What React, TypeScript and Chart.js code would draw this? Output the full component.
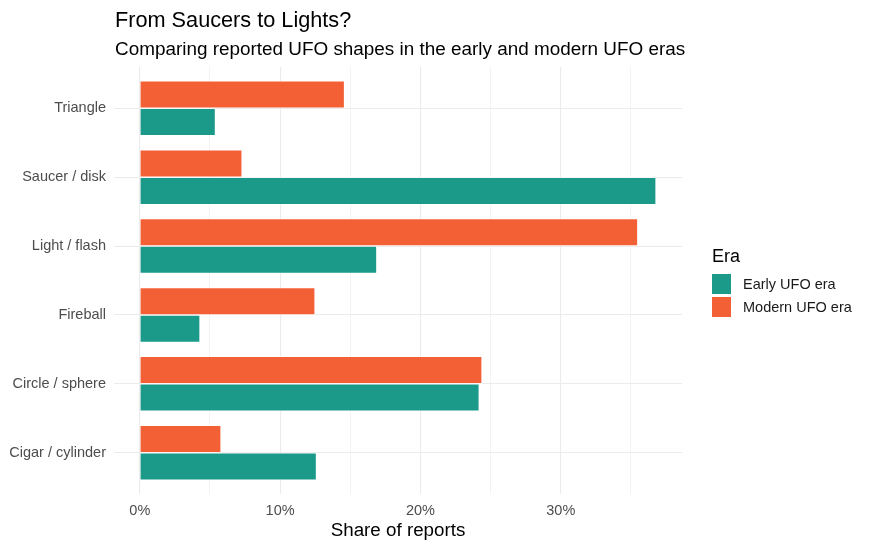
import { useEffect, useRef } from 'react';
import { Chart, registerables } from 'chart.js';

Chart.register(...registerables);

// top-to-bottom order as drawn
const shapes = ['Triangle', 'Saucer / disk', 'Light / flash', 'Fireball', 'Circle / sphere', 'Cigar / cylinder'];
const earlyEra = [5.4, 36.8, 16.9, 4.3, 24.2, 12.6];
const modernEra = [14.6, 7.3, 35.5, 12.5, 24.4, 5.8];
const xTicks = [0, 5, 10, 15, 20, 25, 30, 35];
const eras = ['Early UFO era', 'Modern UFO era'];

const TEAL = '#1B9A8A';
const ORANGE = '#F46036';
const FONT = '"Liberation Sans", Arial, sans-serif';

// ggplot-like title, subtitle and legend, placed against the panel
const headerAndLegend = {
	id: 'headerAndLegend',
	afterDraw(chart: Chart) {
		const { ctx, chartArea } = chart;
		ctx.save();
		ctx.textBaseline = 'alphabetic';
		ctx.textAlign = 'left';
		ctx.fillStyle = '#000';
		ctx.font = `21.7px ${FONT}`;
		ctx.fillText('From Saucers to Lights?', chartArea.left + 1, 27);
		ctx.font = `18.9px ${FONT}`;
		ctx.fillText('Comparing reported UFO shapes in the early and modern UFO eras', chartArea.left + 1, 55);

		const lx = chartArea.right + 30;
		ctx.font = `18px ${FONT}`;
		ctx.fillText('Era', lx, 262);
		const colors = [TEAL, ORANGE];
		ctx.font = `14.5px ${FONT}`;
		ctx.textBaseline = 'middle';
		eras.forEach((label, i) => {
			const y = 274 + i * 23;
			ctx.fillStyle = colors[i];
			ctx.fillRect(lx, y, 19, 20);
			ctx.fillStyle = '#1a1a1a';
			ctx.fillText(label, lx + 31, y + 10.5);
		});
		ctx.restore();
	},
};

export default function App() {
	const chartRef = useRef<HTMLCanvasElement>(null);

	useEffect(() => {
		if (!chartRef.current) return;
		const chart = new Chart(chartRef.current, {
			type: 'bar',
			data: {
				datasets: [
					{
						label: eras[1],
						data: modernEra.map((v, i) => ({ x: v, y: i })),
						backgroundColor: ORANGE,
						borderColor: '#ffffff',
						borderWidth: 0.8,
						categoryPercentage: 0.8,
						barPercentage: 1,
					},
					{
						label: eras[0],
						data: earlyEra.map((v, i) => ({ x: v, y: i })),
						backgroundColor: TEAL,
						borderColor: '#ffffff',
						borderWidth: 0.8,
						categoryPercentage: 0.8,
						barPercentage: 1,
					},
				],
			},
			options: {
				indexAxis: 'y',
				animation: false,
				responsive: false,
				layout: { padding: { top: 67, right: 187, bottom: 0, left: 0 } },
				plugins: {
					legend: { display: false },
					tooltip: { enabled: false },
				},
				scales: {
					x: {
						type: 'linear',
						min: -1.84,
						max: 38.64,
						afterBuildTicks: (scale: any) => {
							scale.ticks = xTicks.map((v) => ({ value: v }));
						},
						afterFit: (scale: any) => {
							scale.height = 57;
						},
						border: { display: false },
						grid: {
							color: '#EBEBEB',
							lineWidth: (c: any) => (c.tick && c.tick.value % 10 === 0 ? 1.1 : 0.6),
							drawTicks: false,
						},
						ticks: {
							color: '#4D4D4D',
							font: { family: FONT, size: 14.5 },
							padding: 8,
							autoSkip: false,
							maxRotation: 0,
							callback: (v: any) => (Number(v) % 10 === 0 ? `${v}%` : ''),
						},
						title: {
							display: true,
							text: 'Share of reports',
							color: '#000',
							font: { family: FONT, size: 18.8 },
							padding: { top: 2, bottom: 9 },
						},
					},
					y: {
						type: 'linear',
						reverse: true,
						min: -0.6,
						max: shapes.length - 0.4,
						offset: false,
						afterBuildTicks: (scale: any) => {
							scale.ticks = shapes.map((_, i) => ({ value: i }));
						},
						afterFit: (scale: any) => {
							scale.width = 114;
						},
						border: { display: false },
						grid: {
							offset: false,
							color: '#EBEBEB',
							lineWidth: 1.1,
							drawTicks: false,
						},
						ticks: {
							color: '#4D4D4D',
							font: { family: FONT, size: 14.5 },
							padding: 8,
							autoSkip: false,
							callback: (v: any) => shapes[Number(v)] ?? '',
						},
					},
				},
			},
			plugins: [headerAndLegend],
		});
		return () => chart.destroy();
	});

	return (
		<div style={{ position: 'absolute', left: 0, top: 0, width: 869, height: 551, background: '#fff' }}>
			<canvas ref={chartRef} width={869} height={551}></canvas>
		</div>
	);
}
